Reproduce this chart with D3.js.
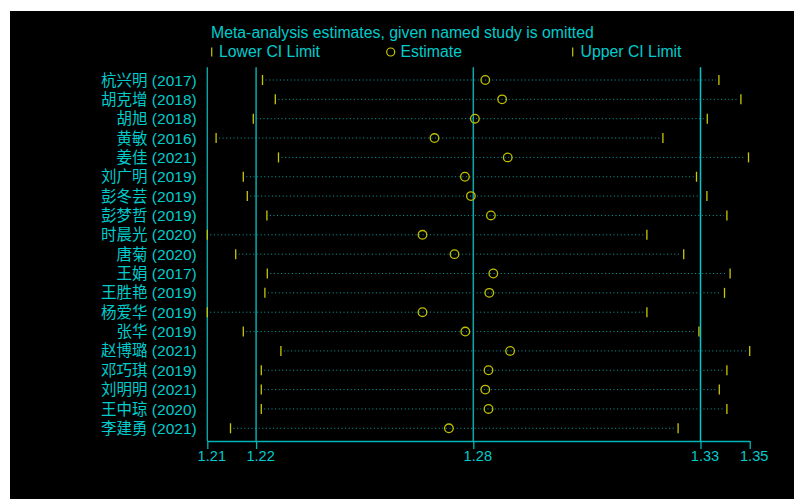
<!DOCTYPE html>
<html>
<head>
<meta charset="utf-8">
<script src="https://cdn.jsdelivr.net/npm/d3@7"></script>
<style>
  html, body { margin: 0; padding: 0; background: #ffffff; }
  svg { display: block; }
</style>
</head>
<body>
<svg id="chart" width="794" height="499"></svg>
<script>
// ---- data ----
const studies = ["杭兴明 (2017)", "胡克增 (2018)", "胡旭 (2018)", "黄敏 (2016)", "姜佳 (2021)",
  "刘广明 (2019)", "彭冬芸 (2019)", "彭梦哲 (2019)", "时晨光 (2020)", "唐菊 (2020)",
  "王娟 (2017)", "王胜艳 (2019)", "杨爱华 (2019)", "张华 (2019)", "赵博璐 (2021)",
  "邓巧琪 (2019)", "刘明明 (2021)", "王中琼 (2020)", "李建勇 (2021)"];
const lowerCI = [1.2248, 1.2280, 1.2225, 1.2132, 1.2288, 1.2200, 1.2210, 1.2259, 1.2110, 1.2181,
  1.2260, 1.2254, 1.2110, 1.2200, 1.2294, 1.2245, 1.2245, 1.2245, 1.2168];
const estimate = [1.2805, 1.2847, 1.2779, 1.2678, 1.2861, 1.2754, 1.2769, 1.2819, 1.2648, 1.2728,
  1.2825, 1.2815, 1.2648, 1.2755, 1.2867, 1.2813, 1.2805, 1.2813, 1.2714];
const upperCI = [1.3389, 1.3444, 1.3360, 1.3249, 1.3463, 1.3333, 1.3359, 1.3409, 1.3209, 1.3301,
  1.3417, 1.3403, 1.3209, 1.3339, 1.3466, 1.3409, 1.3390, 1.3409, 1.3287];
const overall = [1.2232, 1.2775, 1.3343];   // lower CI, estimate, upper CI of the full analysis
const tickLabels = ["1.21", "1.22", "1.28", "1.33", "1.35"];
const titleText = "Meta-analysis estimates, given named study is omitted";
const legendItems = ["Lower CI Limit", "Estimate", "Upper CI Limit"];

// ---- drawing ----
const svg = d3.select("#chart");
const TXT = "#00cccc";
const LINE = "#00b4b4";
const YEL = "#c8c800";
const FONT = "'Liberation Sans', Arial, sans-serif";
const CJK = "'Liberation Sans', Arial, 'Noto Sans CJK SC', sans-serif";

svg.append("rect").attr("x", 10).attr("y", 11).attr("width", 784).attr("height", 488).attr("fill", "#000");

const minV = d3.min(lowerCI), maxV = d3.max(upperCI);
const x = d3.scaleLinear().domain([minV, maxV]).range([207.3, 749.7]);
const y = d3.scalePoint().domain(studies).range([80, 428.3]);
const plotTop = 67.3, axisY = 441;

// title and legend
svg.append("text").attr("x", 211).attr("y", 38).attr("fill", TXT)
  .style("font-family", FONT).style("font-size", "15.8px").text(titleText);

const leg = svg.append("g").style("font-family", FONT).style("font-size", "15.8px");
leg.append("line").attr("x1", 211.7).attr("x2", 211.7).attr("y1", 47.5).attr("y2", 56.5)
  .attr("stroke", YEL).attr("stroke-width", 1.2);
leg.append("text").attr("x", 219).attr("y", 56.5).attr("fill", TXT).text(legendItems[0]);
leg.append("circle").attr("cx", 390.7).attr("cy", 52).attr("r", 4).attr("fill", "none")
  .attr("stroke", YEL).attr("stroke-width", 1.2);
leg.append("text").attr("x", 400.5).attr("y", 56.5).attr("fill", TXT).text(legendItems[1]);
leg.append("line").attr("x1", 572.7).attr("x2", 572.7).attr("y1", 47.5).attr("y2", 56.5)
  .attr("stroke", YEL).attr("stroke-width", 1.2);
leg.append("text").attr("x", 580.5).attr("y", 56.5).attr("fill", TXT).text(legendItems[2]);

// axis
const tickValues = [minV, overall[0], overall[1], overall[2], maxV];
const axis = d3.axisBottom(x).tickValues(tickValues).tickSize(8).tickSizeOuter(0)
  .tickFormat((d, i) => tickLabels[i]);
const gAxis = svg.append("g").attr("transform", `translate(0,${axisY})`).call(axis);
gAxis.select(".domain").attr("stroke", LINE).attr("stroke-width", 1.3);
gAxis.selectAll(".tick line").attr("stroke", LINE).attr("stroke-width", 1.3);
gAxis.selectAll(".tick text").attr("fill", TXT).attr("dx", 4).attr("y", 10)
  .style("font-family", FONT).style("font-size", "14.6px");

// vertical lines: left frame and overall CI/estimate reference lines
svg.append("line").attr("x1", x(minV)).attr("x2", x(minV)).attr("y1", plotTop).attr("y2", axisY)
  .attr("stroke", LINE).attr("stroke-width", 1.3);
overall.forEach((v, i) => {
  svg.append("line").attr("x1", x(v)).attr("x2", x(v)).attr("y1", plotTop).attr("y2", axisY)
    .attr("stroke", i === 2 ? "#00c8cc" : "#10a8a8").attr("stroke-width", 1.5);
});

// rows
const rows = svg.append("g").selectAll("g").data(studies).join("g");
rows.append("line")
  .attr("x1", (d, i) => x(lowerCI[i]) + 3).attr("x2", (d, i) => x(upperCI[i]) - 3)
  .attr("y1", d => y(d)).attr("y2", d => y(d))
  .attr("stroke", "#0ea0a0").attr("stroke-width", 1).attr("stroke-dasharray", "1,2.6");
rows.append("line")
  .attr("x1", (d, i) => x(lowerCI[i])).attr("x2", (d, i) => x(lowerCI[i]))
  .attr("y1", d => y(d) - 5).attr("y2", d => y(d) + 5)
  .attr("stroke", YEL).attr("stroke-width", 1.3);
rows.append("line")
  .attr("x1", (d, i) => x(upperCI[i])).attr("x2", (d, i) => x(upperCI[i]))
  .attr("y1", d => y(d) - 5).attr("y2", d => y(d) + 5)
  .attr("stroke", YEL).attr("stroke-width", 1.3);
rows.append("circle")
  .attr("cx", (d, i) => x(estimate[i])).attr("cy", d => y(d)).attr("r", 4.3)
  .attr("fill", "none").attr("stroke", "#c0c000").attr("stroke-width", 1.3);
rows.append("text")
  .attr("x", 196.7).attr("y", d => y(d)).attr("dy", "0.36em")
  .attr("text-anchor", "end").attr("fill", TXT)
  .style("font-family", CJK).style("font-size", "15.5px").text(d => d);
</script>
</body>
</html>
